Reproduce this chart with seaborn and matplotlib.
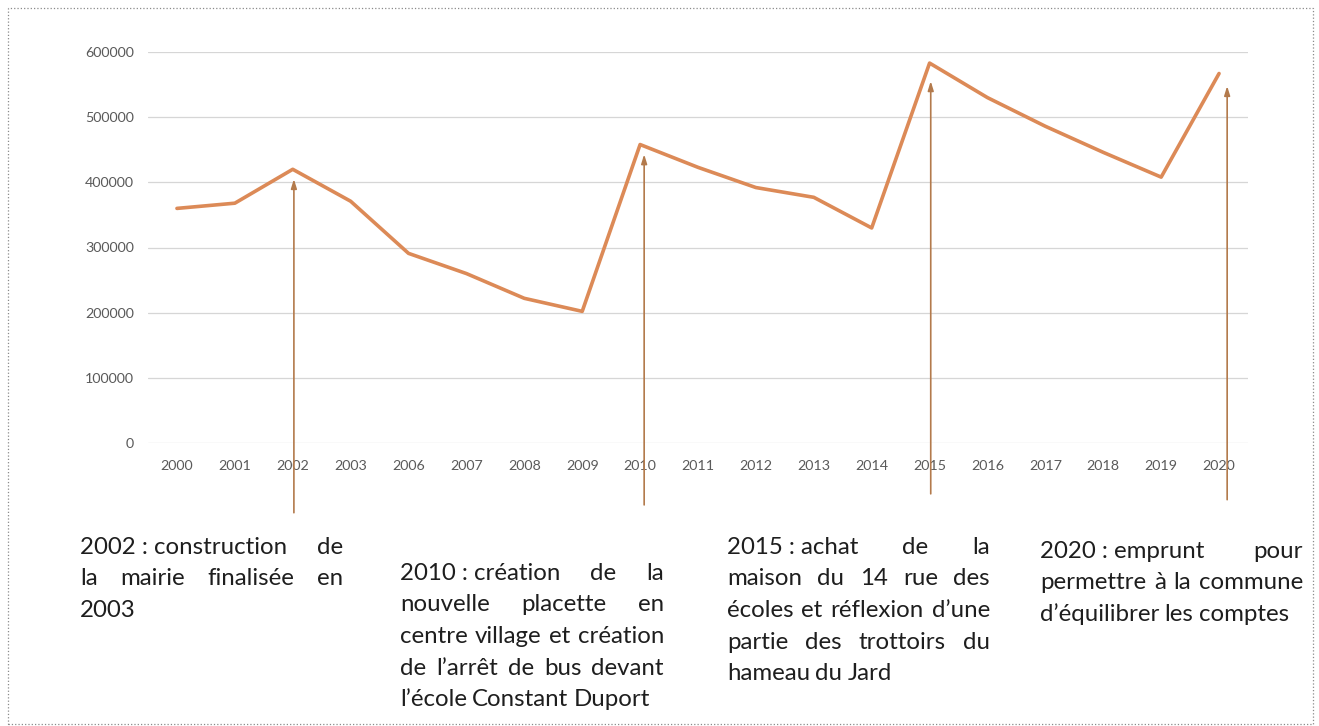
import matplotlib.pyplot as plt
import seaborn as sns
import pandas as pd
from matplotlib.patches import Rectangle

# Data (categorical years, 2004/2005 missing in the source)
years = ['2000', '2001', '2002', '2003', '2006', '2007', '2008', '2009', '2010',
         '2011', '2012', '2013', '2014', '2015', '2016', '2017', '2018', '2019', '2020']
values = [360000, 368000, 420000, 371000, 291000, 260000, 222000, 202000, 458000,
          423000, 392000, 377000, 330000, 583000, 530000, 486000, 446000, 408000, 567000]
yticks = [0, 100000, 200000, 300000, 400000, 500000, 600000]

# Annotated years and their notes (NBSP keeps "2002 : construction" from stretching)
arrow_years = ['2002', '2010', '2015', '2020']
notes = [
    ['2002\u00a0:\u00a0construction de', 'la mairie finalisée en', '2003'],
    ['2010\u00a0:\u00a0création de la', 'nouvelle placette en', 'centre village et création',
     'de l’arrêt de bus devant', 'l’école Constant Duport'],
    ['2015\u00a0:\u00a0achat de la', 'maison du 14 rue des', 'écoles et réflexion d’une',
     'partie des trottoirs du', 'hameau du Jard'],
    ['2020\u00a0:\u00a0emprunt pour', 'permettre à la commune', 'd’équilibrer les comptes'],
]

W, H = 1319, 726
LINE = '#dc8a57'
ARROW = '#b37a4c'

sns.set_theme(style='white')
plt.rcParams['font.family'] = ['Lato', 'DejaVu Sans']

fig = plt.figure(figsize=(W / 100, H / 100), dpi=100)
ax = fig.add_axes([148 / W, (H - 443) / H, 1100 / W, 391 / H])

df = pd.DataFrame({'pos': range(len(years)), 'value': values})
sns.lineplot(data=df, x='pos', y='value', ax=ax, color=LINE, lw=2.6)

ax.set_xlim(-0.5, len(years) - 0.5)
ax.set_ylim(0, 600000)
ax.set_yticks(yticks)
ax.set_yticklabels([str(t) for t in yticks])
ax.set_xticks(range(len(years)))
ax.set_xticklabels(years)
ax.set_xlabel('')
ax.set_ylabel('')
ax.grid(axis='y', color='#d6d6d6', lw=0.9)
for s in ax.spines.values():
    s.set_visible(False)
ax.tick_params(axis='both', length=0, labelsize=10.3, labelcolor='#5a5a5a')
ax.tick_params(axis='x', pad=12.5)
ax.tick_params(axis='y', pad=10)

# hand-drawn style arrows from below the axis up to the peaks
arrow_bottoms = [-107000, -95000, -78000, -87000]
arrow_dx = [0.02, 0.07, 0.02, 0.14]
arrow_gap = [7, 7, 13, 9]
for yr, bottom, dx, gap in zip(arrow_years, arrow_bottoms, arrow_dx, arrow_gap):
    i = years.index(yr)
    ax.annotate('', xy=(i + dx, values[i]), xytext=(i + dx, bottom),
                arrowprops=dict(arrowstyle='-|>,head_length=0.45,head_width=0.14',
                                color=ARROW, lw=1.2, shrinkA=0, shrinkB=gap),
                annotation_clip=False)


def justified(lines, x0, x1, y0, dy, size=17.3):
    renderer = fig.canvas.get_renderer()
    for k, line in enumerate(lines):
        words = line.split(' ')
        y = 1 - (y0 + k * dy) / H
        texts = [fig.text(0, y, w.replace('\u00a0', ' '), fontsize=size, color='#1e1e1e',
                          va='center_baseline', ha='left') for w in words]
        widths = [t.get_window_extent(renderer).width for t in texts]
        last = k == len(lines) - 1
        space = size * 0.3
        if last or len(words) == 1:
            gap = space
        else:
            gap = max(space * 0.6, (x1 - x0 - sum(widths)) / (len(words) - 1))
        x = x0
        for t, w in zip(texts, widths):
            t.set_x(x / W)
            x += w + gap


justified(notes[0], 80, 343, 545, 31.7)
justified(notes[1], 400, 664, 571, 31.7)
justified(notes[2], 727, 990, 545, 31.7)
justified(notes[3], 1040, 1303, 549, 31.7)

# dotted frame of the scanned page
fig.patches.append(Rectangle((8 / W, 2 / H), 1305 / W, 716 / H, transform=fig.transFigure,
                             fill=False, ls=':', lw=0.9, ec='#8a8a8a'))

fig.savefig('out.png', dpi=100)
